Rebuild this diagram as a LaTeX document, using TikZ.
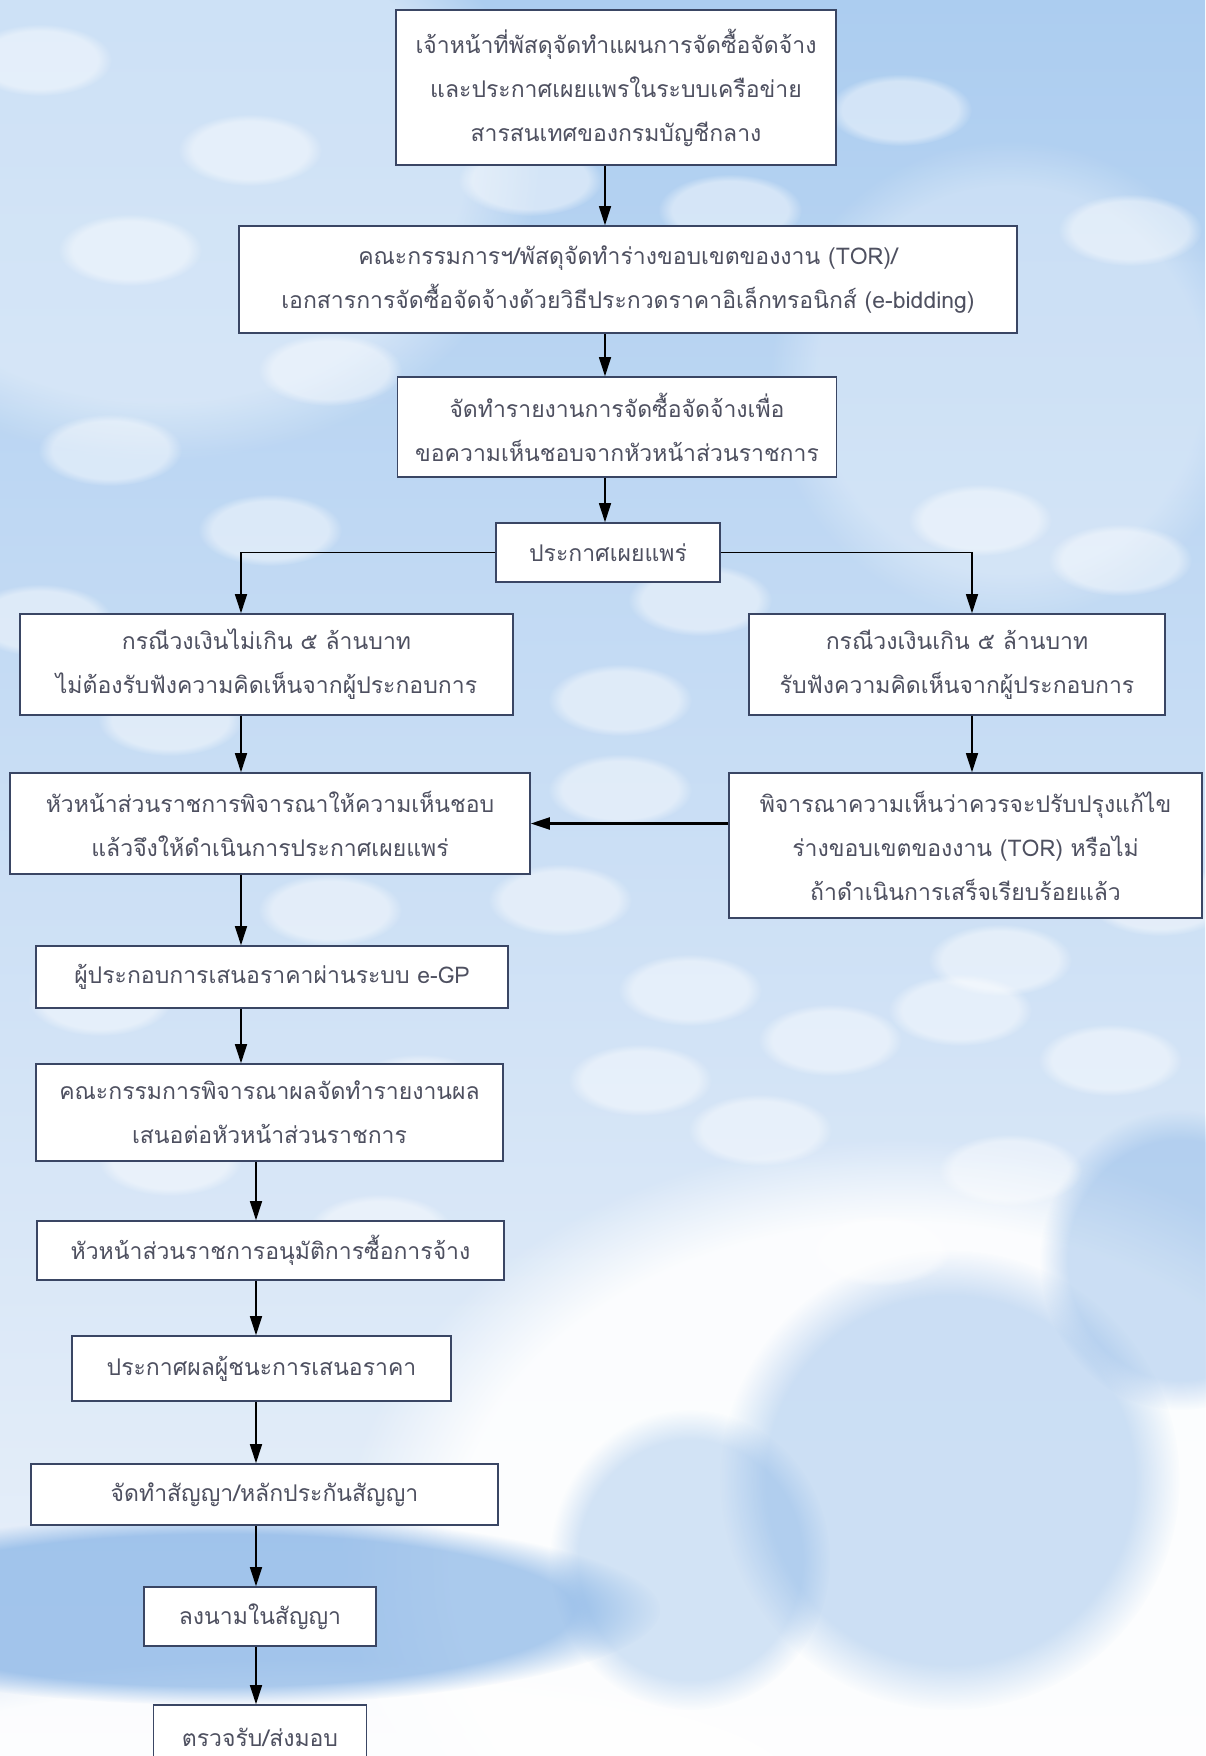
\documentclass[tikz,border=0pt]{standalone}
\usepackage{fontspec}
\newfontfamily\thaifont[Script=Thai]{Loma}
\usepackage{tikz}
\usetikzlibrary{arrows.meta, fadings}
\definecolor{skytop}{RGB}{172,205,240}
\definecolor{skymid}{RGB}{116,168,226}
\definecolor{skylow}{RGB}{236,242,250}
\definecolor{boxline}{RGB}{58,70,100}
\definecolor{boxtext}{RGB}{78,80,96}
\tikzstyle{stage} = [font=\thaifont\fontsize{23}{44}\selectfont, rectangle, draw=boxline, line width=1.6pt, fill=white, text=boxtext, align=center, inner sep=0pt]
\tikzstyle{arrow} = [line width=1.3pt, -{Triangle[length=19pt,width=12pt]}]
\tikzstyle{glow} = [path fading=circle with fuzzy edge 20 percent]
\tikzstyle{bokeh} = [white, opacity=0.45, glow]

\begin{document}
\begin{tikzpicture}[x=1pt, y=1pt, node distance=100pt]
  \useasboundingbox (0,0) rectangle (1205,-1756);
  % sky
  \shade[top color=skytop, middle color=skymid, bottom color=skylow] (0,0) rectangle (1205,-1756);
  \fill[white, opacity=0.4, glow] (160,-160) ellipse (380pt and 300pt);
  \fill[white, opacity=0.3, glow] (1010,-380) ellipse (240pt and 240pt);
  \fill[white, opacity=0.9, glow] (900,-1560) ellipse (560pt and 420pt);
  \fill[white, opacity=0.85, glow] (300,-1790) ellipse (560pt and 130pt);
  \fill[skymid, opacity=0.35, glow] (950,-1480) ellipse (230pt and 230pt);
  \fill[skymid, opacity=0.3, glow] (690,-1560) ellipse (140pt and 150pt);
  \fill[skymid, opacity=0.35, glow] (1180,-1260) ellipse (140pt and 150pt);
  \fill[skymid, opacity=0.6, glow] (220,-1610) ellipse (440pt and 95pt);
  \foreach \bx/\by in {40/60, 250/150, 130/250, 330/370, 110/450, 270/530, 40/620,
    170/720, 330/910, 100/1000, 620/700, 700/600, 560/900, 690/990, 830/1040,
    960/1010, 1110/1060, 1010/1170, 880/1250, 760/1130, 1130/230, 900/110,
    730/210, 530/180, 640/1080, 980/520, 1160/900, 420/1090, 430/650, 620/790,
    1120/560, 860/880, 1000/960, 380/1230, 170/1160}
    \fill[bokeh] (\bx,-\by) ellipse (72pt and 36pt);

  \coordinate (main_line) at (605,0);
  \coordinate (left_line) at (241,0);
  \coordinate (right_line) at (972,0);
  \coordinate (low_line) at (256,0);

  \node (plan) [stage, minimum width=440pt, minimum height=155pt] at (616,-87.5) {เจ้าหน้าที่พัสดุจัดทำแผนการจัดซื้อจัดจ้าง\\
    และประกาศเผยแพรในระบบเครือข่าย\\
    สารสนเทศของกรมบัญชีกลาง};
  \node (tor) [stage, minimum width=778pt, minimum height=107pt, below of=plan, xshift=12pt, yshift=-92pt]{คณะกรรมการฯ/พัสดุจัดทำร่างขอบเขตของงาน (TOR)/\\
    เอกสารการจัดซื้อจัดจ้างด้วยวิธีประกวดราคาอิเล็กทรอนิกส์ (e-bidding)};
  \node (report) [stage, minimum width=439pt, minimum height=100pt, below of=tor, xshift=-11pt, yshift=-47.5pt]{จัดทำรายงานการจัดซื้อจัดจ้างเพื่อ\\
    ขอความเห็นชอบจากหัวหน้าส่วนราชการ};
  \node (announce) [stage, minimum width=224pt, minimum height=59pt, below of=report, xshift=-9pt, yshift=-25.5pt]{ประกาศเผยแพร่};
  \node (small_case) [stage, minimum width=493pt, minimum height=101pt, below of=announce, xshift=-341.5pt, yshift=-12pt]{กรณีวงเงินไม่เกิน ๕ ล้านบาท\\
    ไม่ต้องรับฟังความคิดเห็นจากผู้ประกอบการ};
  \node (large_case) [stage, minimum width=416pt, minimum height=101pt, below of=announce, xshift=349pt, yshift=-12pt]{กรณีวงเงินเกิน ๕ ล้านบาท\\
    รับฟังความคิดเห็นจากผู้ประกอบการ};
  \node (approve) [stage, minimum width=520pt, minimum height=101pt, below of=small_case, xshift=3.5pt, yshift=-59pt]{หัวหน้าส่วนราชการพิจารณาให้ความเห็นชอบ\\
    แล้วจึงให้ดำเนินการประกาศเผยแพร่};
  \node (revise) [stage, minimum width=473pt, minimum height=145pt, below of=large_case, xshift=8.5pt, yshift=-81pt]{พิจารณาความเห็นว่าควรจะปรับปรุงแก้ไข\\
    ร่างขอบเขตของงาน (TOR) หรือไม่\\
    ถ้าดำเนินการเสร็จเรียบร้อยแล้ว};
  \node (bid) [stage, minimum width=472pt, minimum height=62pt, below of=approve, xshift=2pt, yshift=-53.5pt]{ผู้ประกอบการเสนอราคาผ่านระบบ e-GP};
  \node (evaluate) [stage, minimum width=467pt, minimum height=97pt, below of=bid, xshift=-2.5pt, yshift=-35.5pt]{คณะกรรมการพิจารณาผลจัดทำรายงานผล\\
    เสนอต่อหัวหน้าส่วนราชการ};
  \node (authorize) [stage, minimum width=467pt, minimum height=59pt, below of=evaluate, xshift=1pt, yshift=-38pt]{หัวหน้าส่วนราชการอนุมัติการซื้อการจ้าง};
  \node (winner) [stage, minimum width=379pt, minimum height=65pt, below of=authorize, xshift=-9pt, yshift=-18pt]{ประกาศผลผู้ชนะการเสนอราคา};
  \node (contract) [stage, minimum width=467pt, minimum height=61pt, below of=winner, xshift=3pt, yshift=-26pt]{จัดทำสัญญา/หลักประกันสัญญา};
  \node (sign) [stage, minimum width=232pt, minimum height=59pt, below of=contract, xshift=-4.5pt, yshift=-22pt]{ลงนามในสัญญา};
  \node (inspect) [stage, minimum width=213pt, minimum height=64pt, below of=sign, yshift=-20.5pt]{ตรวจรับ/ส่งมอบ};

  \draw[arrow](plan.south -| main_line) -- (tor.north -| main_line);
  \draw[arrow](tor.south -| main_line) -- (report.north -| main_line);
  \draw[arrow](report.south -| main_line) -- (announce.north -| main_line);
  \draw[arrow](announce.west) -| (left_line |- small_case.north);
  \draw[arrow](announce.east) -| (right_line |- large_case.north);
  \draw[arrow](small_case.south -| left_line) -- (approve.north -| left_line);
  \draw[arrow](large_case.south -| right_line) -- (revise.north -| right_line);
  \draw[arrow, line width=2.2pt](revise.west |- approve.east) -- (approve.east);
  \draw[arrow](approve.south -| left_line) -- (bid.north -| left_line);
  \draw[arrow](bid.south -| left_line) -- (evaluate.north -| left_line);
  \draw[arrow](evaluate.south -| low_line) -- (authorize.north -| low_line);
  \draw[arrow](authorize.south -| low_line) -- (winner.north -| low_line);
  \draw[arrow](winner.south -| low_line) -- (contract.north -| low_line);
  \draw[arrow](contract.south -| low_line) -- (sign.north -| low_line);
  \draw[arrow](sign.south -| low_line) -- (inspect.north -| low_line);
\end{tikzpicture}
\end{document}
